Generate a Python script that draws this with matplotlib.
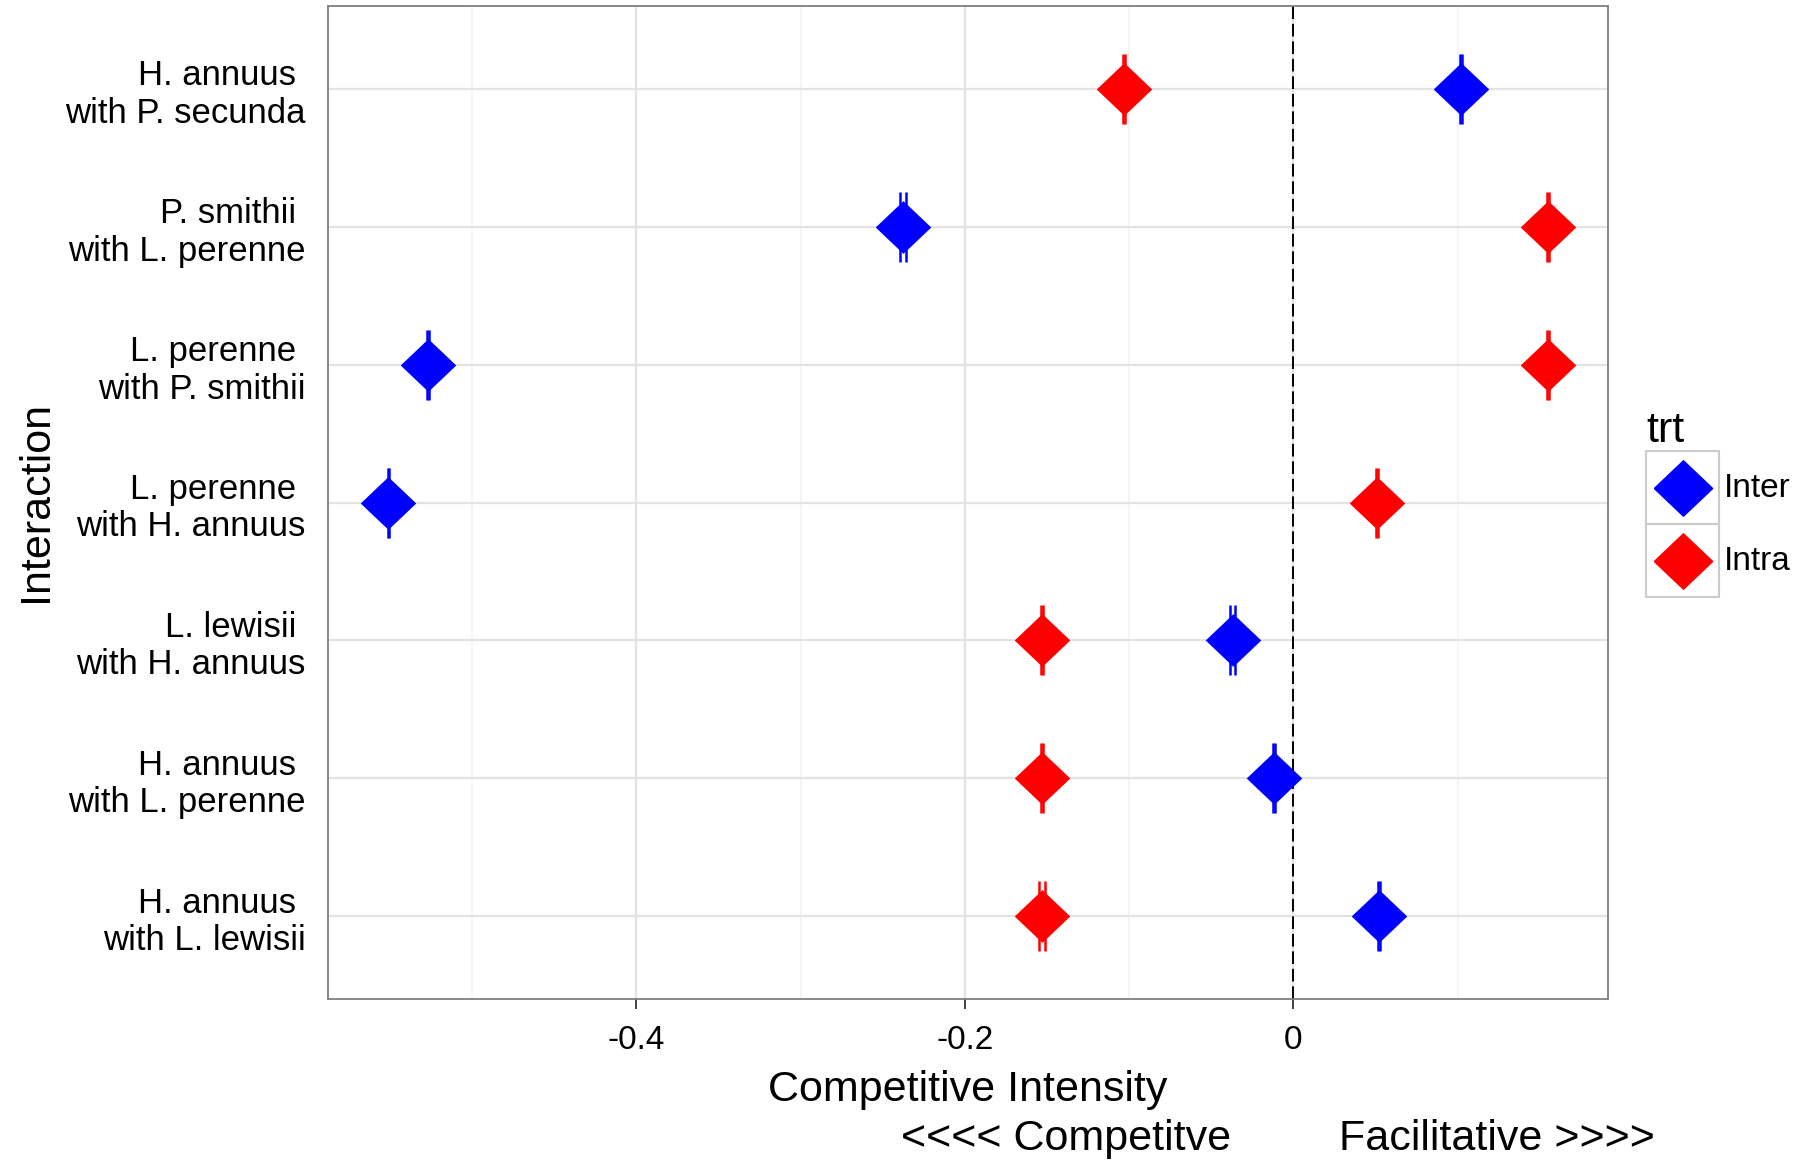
import matplotlib
matplotlib.use("Agg")
import matplotlib.pyplot as plt
import numpy as np
from matplotlib.legend_handler import HandlerBase
from matplotlib.lines import Line2D
from matplotlib.patches import Rectangle

plt.rcParams["font.family"] = ["Liberation Sans", "DejaVu Sans"]

# rows listed top to bottom
interactions = [
    "H. annuus \nwith P. secunda",
    "P. smithii \nwith L. perenne",
    "L. perenne \nwith P. smithii",
    "L. perenne \nwith H. annuus",
    "L. lewisii \nwith H. annuus",
    "H. annuus \nwith L. perenne",
    "H. annuus \nwith L. lewisii",
]
inter_ci = [0.102, -0.238, -0.527, -0.551, -0.037, -0.012, 0.052]
inter_se = [0.0005, 0.0018, 0.0005, 0.0005, 0.0015, 0.0005, 0.0005]
intra_ci = [-0.103, 0.155, 0.155, 0.051, -0.153, -0.153, -0.153]
intra_se = [0.0005, 0.0005, 0.0005, 0.0005, 0.0005, 0.0005, 0.0018]

treatments = ["Inter", "Intra"]
colors = {"Inter": "#0000FF", "Intra": "#FF0000"}

DIAMOND = [(-1.0, 0.0), (0.0, 0.95), (1.0, 0.0), (0.0, -0.95), (-1.0, 0.0)]


class KeyHandler(HandlerBase):
    """ggplot-like legend key: grey bordered square with a diamond."""

    def create_artists(self, legend, orig_handle, xdescent, ydescent,
                       width, height, fontsize, trans):
        box = Rectangle((-xdescent, -ydescent), width, height, facecolor="white",
                        edgecolor="#cccccc", linewidth=1.5, transform=trans)
        mk = Line2D([width / 2 - xdescent], [height / 2 - ydescent], marker=DIAMOND,
                    markersize=42, color=orig_handle.get_color(), linestyle="none",
                    transform=trans)
        return [box, mk]


def main() -> None:
    fig = plt.figure(figsize=(17.98, 11.6), dpi=100, facecolor="white")
    ax = fig.add_axes([328 / 1798, 1 - 999 / 1160, 1280 / 1798, 993 / 1160])

    y = np.arange(len(interactions))
    for vals, errs, trt in [(intra_ci, intra_se, "Intra"), (inter_ci, inter_se, "Inter")]:
        c = colors[trt]
        ax.errorbar(vals, y, xerr=errs, fmt="none", ecolor=c, elinewidth=1.5,
                    capsize=25, capthick=1.8, zorder=3)
        ax.plot(vals, y, linestyle="none", marker=DIAMOND, markersize=40,
                color=c, markeredgewidth=0, zorder=4)

    ax.axvline(0, color="black", linewidth=1.4, dashes=(6.5, 2.5), zorder=2)

    ax.set_xlim(-0.5878, 0.1915)
    ax.set_ylim(len(interactions) - 0.4, -0.6)
    ax.set_xticks([-0.4, -0.2, 0])
    ax.set_xticklabels(["-0.4", "-0.2", "0"])
    ax.set_xticks([-0.5, -0.3, -0.1, 0.1], minor=True)
    ax.set_yticks(y)
    ax.set_yticklabels(interactions)

    ax.grid(True, which="major", color="#e3e3e3", linewidth=1.6, zorder=0)
    ax.grid(True, which="minor", axis="x", color="#f5f5f5", linewidth=1.4, zorder=0)
    ax.set_axisbelow(True)

    ax.tick_params(axis="x", which="major", length=7, width=1.3, color="#333333",
                   labelsize=24, pad=12, labelcolor="black")
    ax.tick_params(axis="x", which="minor", length=0)
    ax.tick_params(axis="y", length=0, labelsize=25, pad=16, labelcolor="black")
    for lab in ax.get_yticklabels():
        lab.set_linespacing(1.17)
    for sp in ax.spines.values():
        sp.set_color("#7f7f7f")
        sp.set_linewidth(1.3)

    fig.text(968 / 1798, 1 - 1101 / 1160, "Competitive Intensity", ha="center",
             va="baseline", fontsize=31)
    fig.text(1231.5 / 1798, 1 - 1150 / 1160, "<<<< Competitve", ha="right",
             va="baseline", fontsize=31)
    fig.text(1339 / 1798, 1 - 1150 / 1160, "Facilitative >>>>", ha="left",
             va="baseline", fontsize=31)
    fig.text(36 / 1798, 1 - 501 / 1160, "Interaction", rotation=90, ha="center",
             va="center", fontsize=31)

    handles = [Line2D([], [], color=colors[t]) for t in treatments]
    fig.legend(handles, treatments, title="trt", handler_map={Line2D: KeyHandler()},
               loc="upper left", bbox_to_anchor=(1646 / 1798, 1 - 411 / 1160),
               frameon=False, fontsize=24, title_fontsize=31, alignment="left",
               borderpad=0, borderaxespad=0, labelspacing=0, handlelength=2.2,
               handleheight=3.0, handletextpad=0.15)

    fig.savefig("out.png", dpi=100, facecolor="white")
    plt.close(fig)


if __name__ == "__main__":
    main()
